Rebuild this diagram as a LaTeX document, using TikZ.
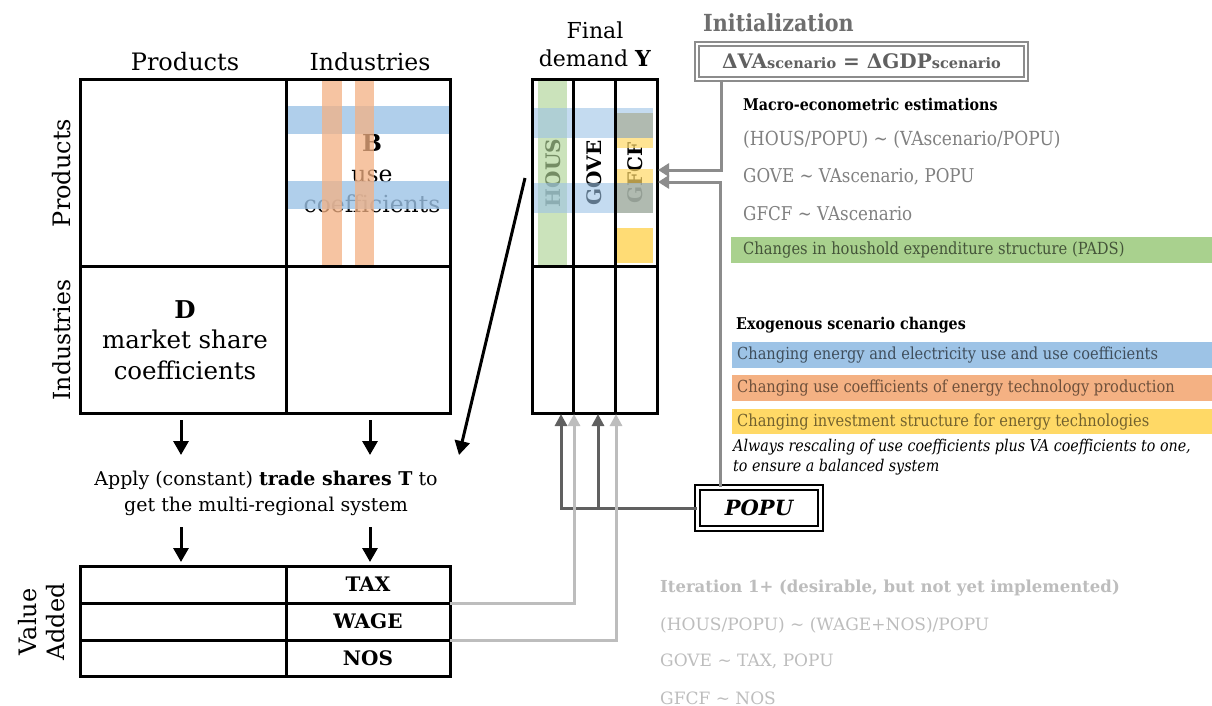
\documentclass[tikz,border=0pt]{standalone}
\usepackage{fontspec}
\setmainfont{DejaVu Serif}
\newfontfamily\cond[FakeStretch=0.88]{DejaVu Serif}
\usetikzlibrary{arrows.meta}
\definecolor{hblue}{HTML}{9DC3E6}
\definecolor{horange}{HTML}{F4B183}
\definecolor{hgreen}{HTML}{A9D18E}
\definecolor{hyellow}{HTML}{FFD966}
\definecolor{tgray}{HTML}{808080}
\definecolor{igray}{HTML}{6E6E6E}
\definecolor{lgray}{HTML}{BDBDBD}
\definecolor{dgray}{HTML}{606060}
\definecolor{bgray}{HTML}{8C8C8C}
\newcommand\fsz[1]{\fontsize{#1}{#1}\selectfont}
\tikzset{
  tbl/.style={draw=black, line width=3pt, inner sep=0pt},
  thin line/.style={draw=black, line width=3pt},
  blackarrow/.style={line width=3pt, -{Triangle[length=14pt,width=15pt]}},
  grayarrow/.style={draw=bgray, line width=3pt, -{Triangle[length=11pt,width=13pt]}},
  darkarrow/.style={draw=dgray, line width=3pt, -{Triangle[length=12pt,width=12pt]}},
  lightarrow/.style={draw=lgray, line width=3pt, -{Triangle[length=12pt,width=12pt]}},
  rtext/.style={anchor=west, text=tgray, inner sep=0pt},
  rhead/.style={anchor=west, inner sep=0pt},
  itext/.style={anchor=west, text=lgray, inner sep=0pt},
  vatext/.style={inner sep=0pt, minimum width=164pt, minimum height=37pt, font={\fsz{20}\bfseries}},
  ytext/.style={rotate=90, font={\fsz{20}\bfseries}},
}
\begin{document}
\begin{tikzpicture}[x=1pt,y=-1pt]
\useasboundingbox[fill=white] (0,0) rectangle (1212,706);

% ---------------- headers ----------------
\node[font=\fsz{24}] (hprod) at (185,62) {Products};
\node[font=\fsz{23.5}] (hind) at (370,62) {Industries};
\node[font=\fsz{24}, rotate=90] (vprod) at (62,173) {Products};
\node[font=\fsz{23.5}, rotate=90] (vind) at (62,340) {Industries};

% ---------------- cell texts ----------------
\node[font=\fsz{23.5}, align=center, inner sep=0pt] (Btext) at (372,174) {\textbf{B}\\[7pt]use\\[7pt]coefficients};
\node[font=\fsz{24.5}, align=center, inner sep=0pt] (Dtext) at (185,340) {\textbf{D}\\[6pt]market share\\[6pt]coefficients};

% B overlays
\fill[hblue, fill opacity=0.8] (287,106) rectangle (449,134);
\fill[hblue, fill opacity=0.8] (287,181) rectangle (449,209);
\fill[horange, fill opacity=0.75] (322,81) rectangle (342,265);
\fill[horange, fill opacity=0.75] (355,81) rectangle (374,265);

% IO table
\node[tbl, minimum width=370pt, minimum height=334pt] (IO) at (265,246.5) {};
\draw[thin line] (286,79.5) -- (286,413.5);
\draw[thin line] (80,266.5) -- (450,266.5);

% ---------------- Final demand ----------------
\node[font=\fsz{22}, align=center, inner sep=0pt] (fdY) at (595,44) {Final\\[6pt]demand \textbf{Y}};
\node[ytext, text=black!85] (hous) at (553,173) {HOUS};
\node[ytext] (gove) at (594,173) {GOVE};
\node[ytext] (gfcf) at (635,173) {GFCF};
\fill[hgreen, fill opacity=0.6] (538,81) rectangle (567,265);
\fill[hyellow, fill opacity=0.7] (616,113) rectangle (653,148);
\fill[hyellow, fill opacity=0.7] (616,169) rectangle (653,213);
\fill[hyellow, fill opacity=0.9] (616,228) rectangle (653,263);
\fill[hblue, fill opacity=0.6] (533,108) rectangle (653,138);
\fill[hblue, fill opacity=0.6] (533,183) rectangle (653,213);
\fill[black, fill opacity=0.1] (616,113) rectangle (653,138);
\fill[black, fill opacity=0.1] (616,183) rectangle (653,213);
\node[tbl, minimum width=125pt, minimum height=334pt] (Ytab) at (594.5,246.5) {};
\draw[thin line] (573.5,79.5) -- (573.5,413.5);
\draw[thin line] (615.5,79.5) -- (615.5,413.5);
\draw[thin line] (532,266.5) -- (657,266.5);

% ---------------- trade shares ----------------
\node[font=\fsz{19}, align=center, inner sep=0pt] (trade) at (266,493) {Apply (constant) \textbf{trade shares T} to\\[7pt]get the multi-regional system};
\coordinate (a1s) at (181,420); \coordinate (a1e) at (181,455);
\coordinate (a2s) at (370,420); \coordinate (a2e) at (370,455);
\coordinate (a3s) at (181,527); \coordinate (a3e) at (181,562);
\coordinate (a4s) at (370,527); \coordinate (a4e) at (370,562);
\draw[blackarrow] (a1s) -- (a1e);
\draw[blackarrow] (a2s) -- (a2e);
\draw[blackarrow] (a3s) -- (a3e);
\draw[blackarrow] (a4s) -- (a4e);
\coordinate (bigs) at (525,178); \coordinate (bige) at (459,455);
\draw[blackarrow] (bigs) -- (bige);

% ---------------- Value added ----------------
\node[tbl, minimum width=370pt, minimum height=110pt] (VA) at (265,621) {};
\draw[thin line] (286,566) -- (286,676);
\draw[thin line] (80,603) -- (450,603);
\draw[thin line] (80,640) -- (450,640);
\node[vatext] (tax) at (368,584.5) {TAX};
\node[vatext] (wage) at (368,621.5) {WAGE};
\node[vatext] (nos) at (368,658) {NOS};
\node[font=\fsz{24}, rotate=90, align=center, inner sep=0pt] (vadd) at (42,622) {Value\\[4pt]Added};

% ---------------- Initialization ----------------
\node[font={\cond\fsz{23.5}\bfseries}, text=igray, anchor=west, inner sep=0pt] (inith) at (703,23) {Initialization};
\node[draw=bgray, line width=2pt, double=white, double distance=2.5pt, minimum width=329pt, minimum height=35pt, inner sep=0pt, text=dgray] (init) at (861.5,61.5)
  {\fsz{20}\bfseries ΔVA{\fsz{14.5}scenario} = ΔGDP{\fsz{14.5}scenario}};

\node[rhead, font={\cond\fsz{16.2}\bfseries}] (macro) at (743,104) {Macro-econometric estimations};
\node[rtext, font={\cond\fsz{19.4}}] (m1) at (743,140) {(HOUS/POPU) \textasciitilde{} (VAscenario/POPU)};
\node[rtext, font={\cond\fsz{19}}] (m2) at (743,177) {GOVE \textasciitilde{} VAscenario, POPU};
\node[rtext, font={\cond\fsz{19}}] (m3) at (743,214) {GFCF \textasciitilde{} VAscenario};
\fill[hgreen] (731,237) rectangle (1212,263);
\node[rtext, font={\cond\fsz{16.7}}, text=hgreen!40!black] (pads) at (743,250) {Changes in houshold expenditure structure (PADS)};

\node[rhead, font={\cond\fsz{16.2}\bfseries}] (exo) at (736,325) {Exogenous scenario changes};
\fill[hblue] (732,342) rectangle (1212,368);
\node[rtext, font={\cond\fsz{16.6}}, text=hblue!40!black] (e1) at (737,355) {Changing energy and electricity use and use coefficients};
\fill[horange] (732,375) rectangle (1212,401);
\node[rtext, font={\cond\fsz{16.6}}, text=horange!45!black] (e2) at (737,388) {Changing use coefficients of energy technology production};
\fill[hyellow] (732,409) rectangle (1212,434);
\node[rtext, font={\cond\fsz{16.6}}, text=hyellow!45!black] (e3) at (737,422) {Changing investment structure for energy technologies};
\node[anchor=north west, font={\cond\fsz{16.2}\itshape}, align=left, inner sep=0pt] (resc) at (733,439) {Always rescaling of use coefficients plus VA coefficients to one,\\[4pt]to ensure a balanced system};

% POPU
\node[draw=black, line width=2pt, double=white, double distance=3pt, minimum width=123pt, minimum height=41pt, inner sep=0pt, font={\fsz{21}\bfseries\itshape}] (popu) at (759,508) {POPU};

% arrows into GFCF
\coordinate (g1) at (658,170);
\coordinate (g2) at (658,182);
\draw[grayarrow] ([xshift=25pt]init.south west) |- (g1);
\draw[grayarrow] ([xshift=24pt]popu.north west) |- (g2);

% POPU to Y
\coordinate (yb1) at (561,414);
\coordinate (yb2) at (598,414);
\draw[darkarrow] (popu.west) -| (yb1);
\draw[darkarrow] (popu.west) -| (yb2);

% VA to Y
\coordinate (yb3) at (574,414);
\coordinate (yb4) at (616,414);
\draw[lightarrow] (tax.south east) -| (yb3);
\draw[lightarrow] (wage.south east) -| (yb4);

% Iteration
\node[itext, font={\fsz{16.5}\bfseries}] (it0) at (660,588) {Iteration 1+ (desirable, but not yet implemented)};
\node[itext, font=\fsz{17}] (it1) at (660,625) {(HOUS/POPU) \textasciitilde{} (WAGE+NOS)/POPU};
\node[itext, font=\fsz{17}] (it2) at (660,661) {GOVE \textasciitilde{} TAX, POPU};
\node[itext, font=\fsz{17}] (it3) at (660,698) {GFCF \textasciitilde{} NOS};
\end{tikzpicture}
\end{document}
